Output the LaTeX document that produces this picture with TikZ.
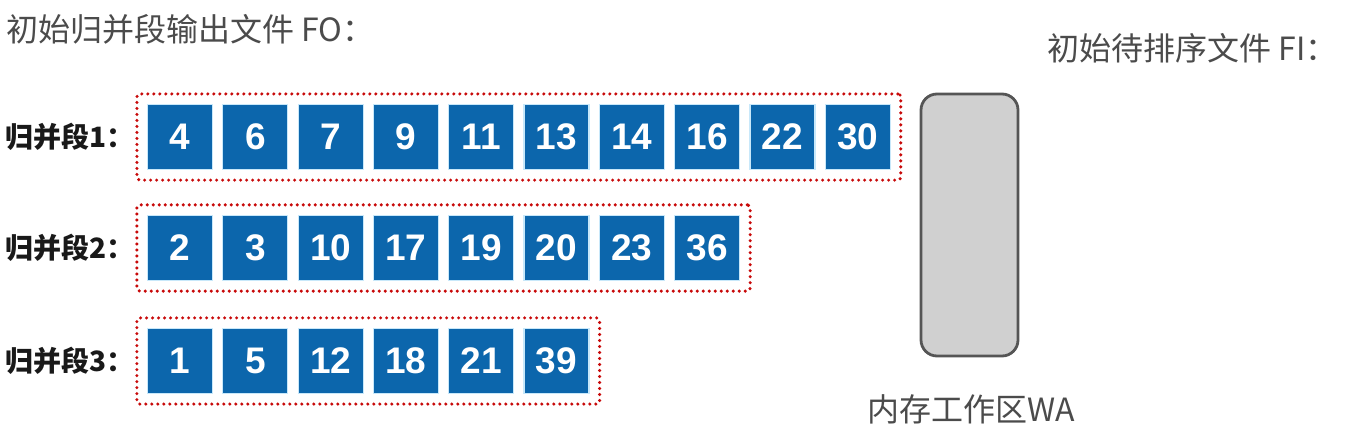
\documentclass[tikz,border=0pt]{standalone}
\usepackage{fontspec}
\setmainfont{Noto Sans CJK SC}
\newfontfamily\numfont{Liberation Sans}
\usetikzlibrary{fit}

\definecolor{runblue}{RGB}{12,102,172}
\definecolor{runedge}{RGB}{200,232,250}
\definecolor{dotred}{RGB}{200,10,10}
\definecolor{wafill}{RGB}{208,208,208}
\definecolor{waedge}{RGB}{85,85,85}
\definecolor{txtgray}{RGB}{75,75,75}

\tikzset{
  keybox/.style={draw=runedge, line width=1.2pt, fill=runblue, minimum size=65pt,
    inner sep=0pt, text=white, font=\numfont\bfseries\fontsize{37}{37}\selectfont},
  runframe/.style={draw=dotred, line width=3.4pt, line cap=round,
    dash pattern=on 0pt off 6pt, rounded corners=3pt, inner xsep=10pt, inner ysep=10pt},
  seglabel/.style={anchor=west, inner sep=0pt, text=black!90,
    font=\bfseries\fontsize{28}{28}\selectfont},
  caption/.style={anchor=west, inner sep=0pt, text=txtgray,
    font=\fontsize{32}{32}\selectfont}
}

\begin{document}
\begin{tikzpicture}[x=1pt,y=-1pt]
\useasboundingbox (0,0) rectangle (1359,441);

% captions
\node[caption] (fo) at (6,29) {初始归并段输出文件 FO：};
\node[caption] (fi) at (1047,48) {初始待排序文件 FI：};

% merge runs
\foreach \v [count=\i] in {4,6,7,9,11,13,14,16,22,30}
  \node[keybox] (a\i) at ({180+(\i-1)*75.3},137) {\v};
\foreach \v [count=\i] in {2,3,10,17,19,20,23,36}
  \node[keybox] (b\i) at ({180+(\i-1)*75.3},248) {\v};
\foreach \v [count=\i] in {1,5,12,18,21,39}
  \node[keybox] (c\i) at ({180+(\i-1)*75.3},361) {\v};

\node[runframe, fit=(a1)(a10)] (seg1) {};
\node[runframe, fit=(b1)(b8)] (seg2) {};
\node[runframe, fit=(c1)(c6)] (seg3) {};

\node[seglabel] (lab1) at (5,137) {归并段1：};
\node[seglabel] (lab2) at (5,248) {归并段2：};
\node[seglabel] (lab3) at (5,361) {归并段3：};

% work area
\node[draw=waedge, fill=wafill, line width=2.8pt, rounded corners=16pt,
  minimum width=97pt, minimum height=262pt] (wa) at (969.5,225) {};
\node[caption, anchor=center] (walab) at (971,409) {内存工作区WA};
\end{tikzpicture}
\end{document}
